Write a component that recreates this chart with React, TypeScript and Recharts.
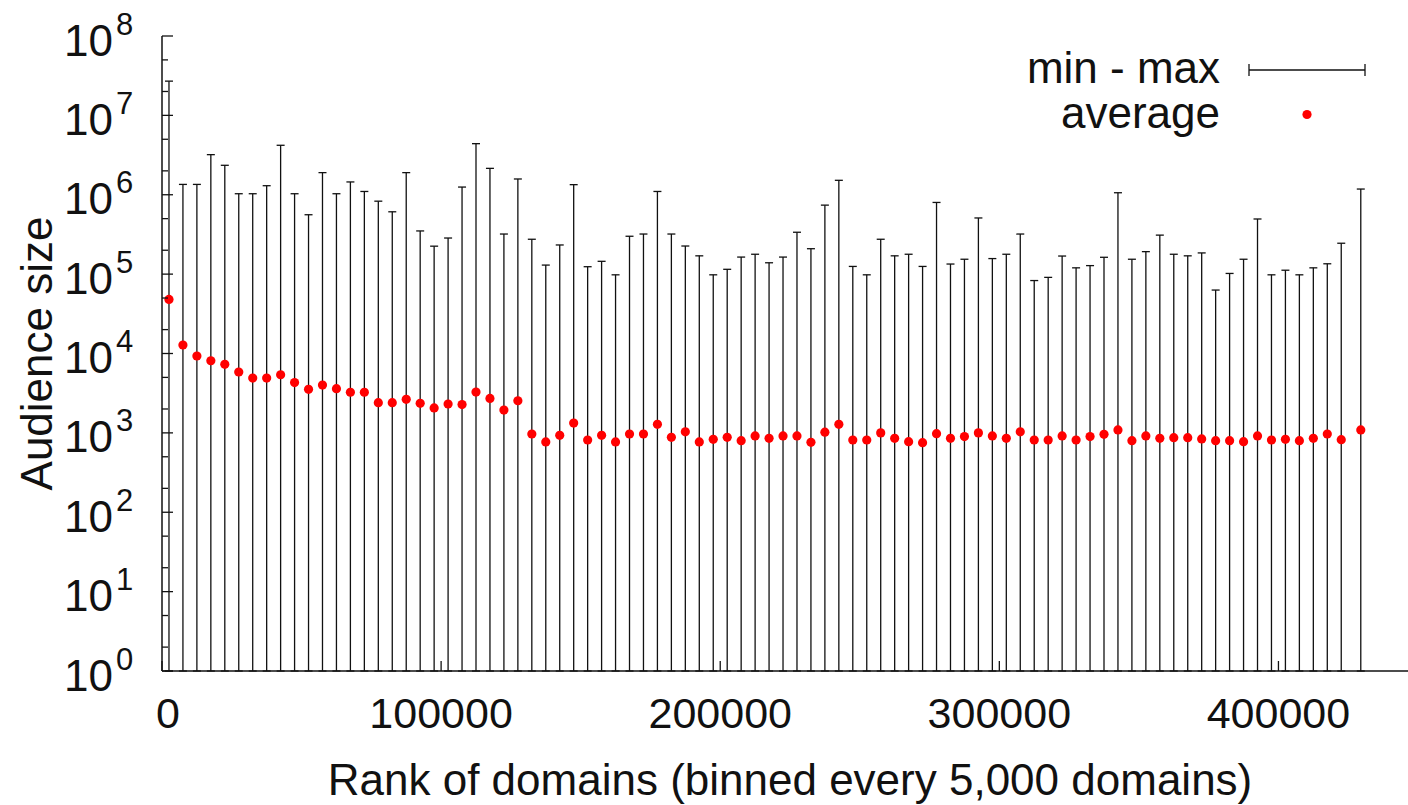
import React from 'react';
import { ComposedChart, Scatter, ErrorBar, XAxis, YAxis } from 'recharts';

const FONT = '"Liberation Sans", Arial, Helvetica, sans-serif';

// bin centres (rank of domains, binned every 5,000 domains)
const rankBins = [
  2500, 7500, 12500, 17500, 22500, 27500, 32500, 37500, 42500, 47500,
  52500, 57500, 62500, 67500, 72500, 77500, 82500, 87500, 92500, 97500,
  102500, 107500, 112500, 117500, 122500, 127500, 132500, 137500, 142500, 147500,
  152500, 157500, 162500, 167500, 172500, 177500, 182500, 187500, 192500, 197500,
  202500, 207500, 212500, 217500, 222500, 227500, 232500, 237500, 242500, 247500,
  252500, 257500, 262500, 267500, 272500, 277500, 282500, 287500, 292500, 297500,
  302500, 307500, 312500, 317500, 322500, 327500, 332500, 337500, 342500, 347500,
  352500, 357500, 362500, 367500, 372500, 377500, 382500, 387500, 392500, 397500,
  402500, 407500, 412500, 417500, 422500, 429500,
];

const maxAudience = [
  27000000, 1350000, 1350000, 3200000, 2350000, 1030000, 1030000, 1300000, 4200000, 1030000,
  560000, 1900000, 1030000, 1450000, 1100000, 830000, 610000, 1900000, 350000, 225000,
  285000, 1250000, 4400000, 2150000, 320000, 1580000, 275000, 130000, 233000, 1340000,
  124000, 145000, 98000, 300000, 320000, 1100000, 320000, 226000, 170000, 98000,
  115000, 164000, 178000, 139000, 164000, 337000, 209000, 740000, 1520000, 125000,
  98000, 275000, 170000, 178000, 125000, 800000, 134000, 154000, 510000, 157000,
  178000, 320000, 83000, 91000, 169000, 120000, 128000, 163000, 1060000, 154000,
  192000, 310000, 178000, 170000, 185000, 63000, 102000, 154000, 495000, 98000,
  112000, 98000, 120000, 135000, 245000, 1180000,
];

const minAudience = [
  1, 1, 1, 1, 1, 1, 1, 1, 1, 1,
  1, 1, 1, 1, 1, 1, 1, 1, 1, 1,
  1, 1, 1, 1, 1, 1, 1, 1, 1, 1,
  1, 1, 1, 1, 1, 1, 1, 1, 1, 1,
  1, 1, 1, 1, 1, 1, 1, 1, 1, 1,
  1, 1, 1, 1, 1, 1, 1, 1, 1, 1,
  1, 1, 1, 1, 1, 1, 1, 1, 1, 1,
  1, 1, 1, 1, 1, 1, 1, 1, 1, 1,
  1, 1, 1, 1, 1, 1,
];

const avgAudience = [
  48000, 12800, 9300, 8100, 7300, 5850, 4900, 4900, 5400, 4300,
  3540, 4000, 3600, 3250, 3250, 2400, 2400, 2650, 2360, 2060,
  2310, 2270, 3270, 2720, 1940, 2540, 968, 768, 931, 1330,
  813, 931, 768, 968, 968, 1280, 879, 1030, 768, 830,
  879, 797, 914, 854, 914, 914, 761, 1020, 1280, 813,
  813, 1000, 854, 774, 752, 977, 854, 897, 1000, 914,
  854, 1030, 813, 813, 914, 813, 897, 960, 1090, 797,
  914, 854, 871, 871, 838, 797, 797, 774, 914, 813,
  830, 797, 854, 968, 822, 1090,
];

const xTicks = [0, 100000, 200000, 300000, 400000];
const yTicks = [
  1, 2, 5, 10, 20, 50, 100, 200, 500, 1000, 2000, 5000, 10000, 20000, 50000,
  100000, 200000, 500000, 1000000, 2000000, 5000000, 10000000, 20000000, 50000000, 100000000,
];
const legendLabels = ['min - max', 'average'];
const xTitle = 'Rank of domains (binned every 5,000 domains)';
const yTitle = 'Audience size';

const rows = rankBins.map((rank, i) => ({
  rank,
  avg: avgAudience[i],
  err: [avgAudience[i] - minAudience[i], maxAudience[i] - avgAudience[i]],
}));

const INK = '#111';

const YTick = (props: any) => {
  const { x, y, payload } = props;
  const v = Number(payload.value);
  const lg = Math.log10(v);
  const e = Math.round(lg);
  const major = Math.abs(lg - e) < 1e-6;
  return (
    <g>
      <line x1={x} x2={x + (major ? 11 : 6)} y1={y} y2={y} stroke={INK} strokeWidth={1.3} />
      {major && (
        <text x={x - 98} y={y + 19.5} fontSize={44} fontFamily={FONT} fill={INK}>
          10
          <tspan dx={3} dy={-21} fontSize={31}>
            {e}
          </tspan>
        </text>
      )}
    </g>
  );
};

const XTick = (props: any) => {
  const { x, y, payload } = props;
  const v = Number(payload.value);
  return (
    <g>
      <line x1={x} x2={x} y1={y} y2={y - 10} stroke={INK} strokeWidth={1.3} />
      <text
        x={x + (v === 0 ? 6 : 0)}
        y={y + 57}
        textAnchor="middle"
        fontSize={43}
        fontFamily={FONT}
        fill={INK}
      >
        {String(v)}
      </text>
    </g>
  );
};

const XTitle = (props: any) => {
  const vb = props.viewBox || { x: 162, y: 671, width: 1256, height: 134 };
  return (
    <text
      x={vb.x + vb.width / 2}
      y={vb.y + 124}
      textAnchor="middle"
      fontSize={44}
      fontFamily={FONT}
      fill={INK}
    >
      {xTitle}
    </text>
  );
};

const YTitle = (props: any) => {
  const vb = props.viewBox || { x: 0, y: 36, width: 162, height: 635 };
  const cx = vb.x + 52;
  const cy = vb.y + vb.height / 2;
  return (
    <text
      x={cx}
      y={cy}
      textAnchor="middle"
      fontSize={44}
      fontFamily={FONT}
      fill={INK}
      transform={`rotate(-90 ${cx} ${cy})`}
    >
      {yTitle}
    </text>
  );
};

const Dot = (props: any) => {
  const { cx, cy } = props;
  return <circle cx={cx} cy={cy} r={4.6} fill="#ff0000" />;
};

export default function App() {
  return (
    <div
      style={{
        position: 'absolute',
        left: 0,
        top: 0,
        width: 1408,
        height: 805,
        overflow: 'hidden',
        background: '#fff',
      }}
    >
      <ComposedChart
        width={1418}
        height={805}
        data={rows}
        margin={{ top: 36, right: 0, bottom: 0, left: 0 }}
      >
        <XAxis
          dataKey="rank"
          type="number"
          domain={[0, 450000]}
          allowDataOverflow
          ticks={xTicks}
          interval={0}
          tickSize={0}
          tickMargin={0}
          tickLine={false}
          tick={<XTick />}
          axisLine={{ stroke: INK, strokeWidth: 1.5 }}
          height={134}
          label={<XTitle />}
        />
        <YAxis
          dataKey="avg"
          type="number"
          scale="log"
          domain={[1, 100000000]}
          allowDataOverflow
          ticks={yTicks}
          interval={0}
          tickSize={0}
          tickMargin={0}
          tickLine={false}
          tick={<YTick />}
          axisLine={{ stroke: INK, strokeWidth: 1.5 }}
          width={162}
          label={<YTitle />}
        />
        <Scatter
          data={rows}
          dataKey="avg"
          fill="#ff0000"
          shape={<Dot />}
          isAnimationActive={false}
        >
          <ErrorBar
            dataKey="err"
            direction="y"
            width={4}
            stroke={INK}
            strokeWidth={1.3}
            isAnimationActive={false}
          />
        </Scatter>
      </ComposedChart>
      <svg
        width={1408}
        height={805}
        style={{ position: 'absolute', left: 0, top: 0, pointerEvents: 'none' }}
      >
        <text x={1220} y={83} textAnchor="end" fontSize={44} fontFamily={FONT} fill={INK}>
          {legendLabels[0]}
        </text>
        <line x1={1249} x2={1365} y1={70} y2={70} stroke={INK} strokeWidth={1.3} />
        <line x1={1249} x2={1249} y1={64} y2={76} stroke={INK} strokeWidth={1.3} />
        <line x1={1365} x2={1365} y1={64} y2={76} stroke={INK} strokeWidth={1.3} />
        <text x={1220} y={128} textAnchor="end" fontSize={44} fontFamily={FONT} fill={INK}>
          {legendLabels[1]}
        </text>
        <circle cx={1307} cy={114.5} r={4.6} fill="#ff0000" />
      </svg>
    </div>
  );
}
